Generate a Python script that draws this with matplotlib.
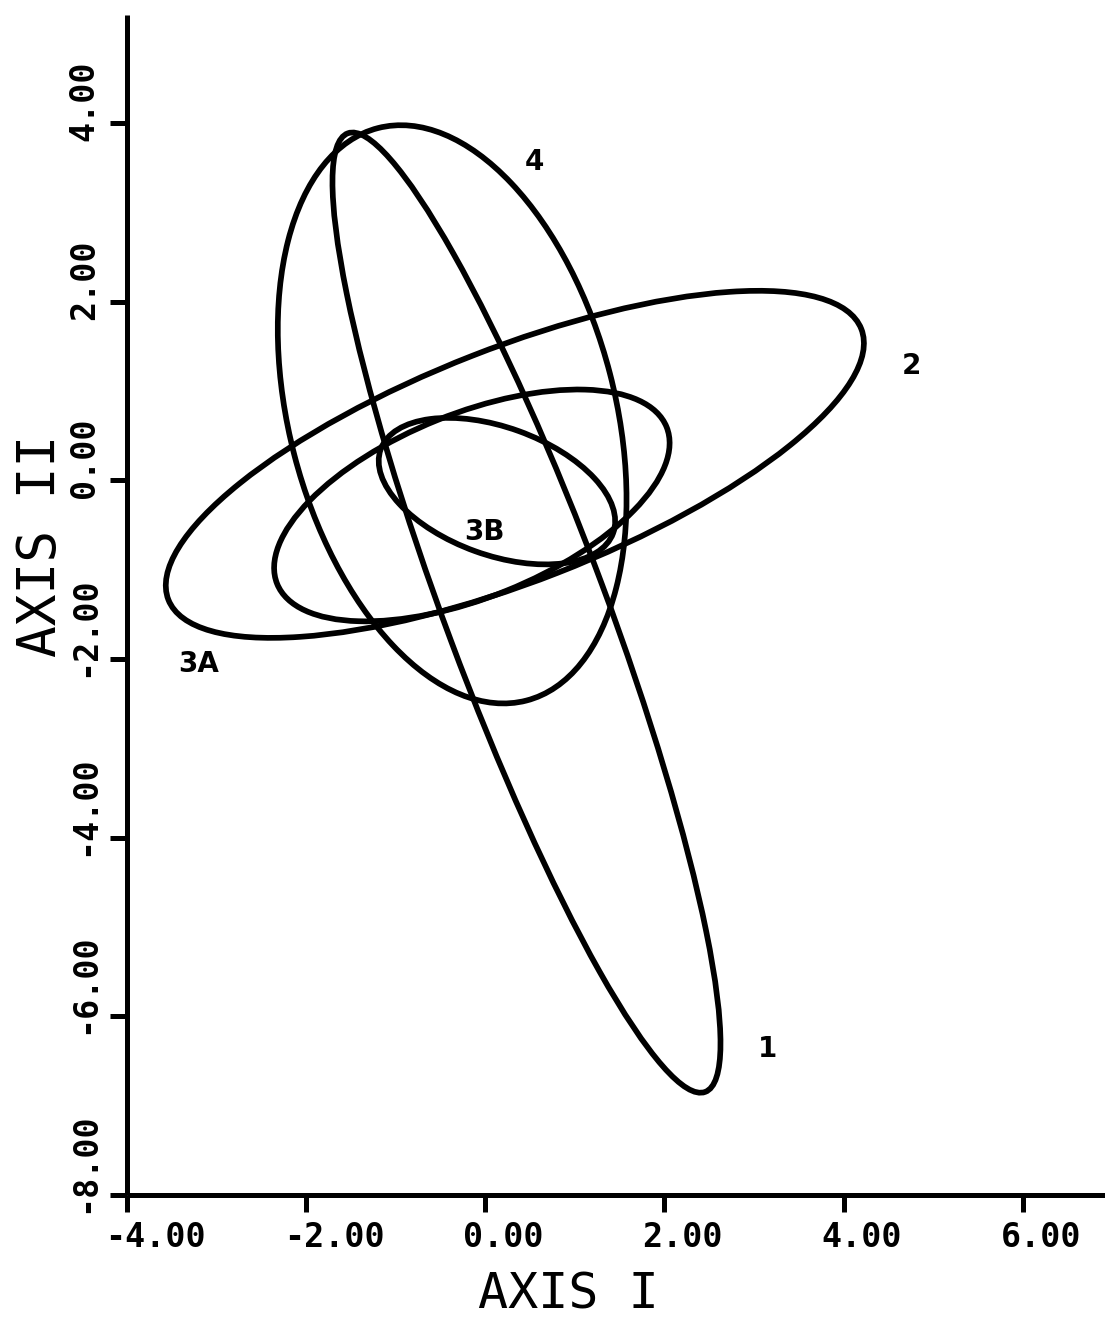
import matplotlib
matplotlib.use('Agg')
import matplotlib.pyplot as plt
from matplotlib.patches import Ellipse
from matplotlib.transforms import ScaledTranslation

# Ellipses (data units): centre, full width, full height, tilt
names = ['1', '2', '3A', '3B', '4']
cx = [0.46, 0.33, -0.15, 0.13, -0.37]
cy = [-1.48, 0.18, -0.28, -0.12, 0.74]
widths = [11.45, 8.31, 4.69, 2.76, 6.62]
heights = [1.80, 2.61, 2.06, 1.43, 3.64]
angles = [110.4, 21.4, 22.0, -19.9, 104.5]

# where the group names are written
label_x = [3.15, 4.76, -3.2, -0.01, 0.55]
label_y = [-6.37, 1.28, -2.06, -0.58, 3.57]

xticks = [-4, -2, 0, 2, 4, 6]
yticks = [-8, -6, -4, -2, 0, 2, 4]
xticklabels = ['-4.00', '-2.00', '0.00', '2.00', '4.00', '6.00']
yticklabels = ['-8.00', '-6.00', '-4.00', '-2.00', '0.00', '2.00', '4.00']

fig = plt.figure(figsize=(11.05, 13.21), dpi=100)
ax = fig.add_axes([0.115, 0.0954, 0.885, 0.8932])

for i in range(len(names)):
    ax.add_patch(Ellipse((cx[i], cy[i]), widths[i], heights[i], angle=angles[i],
                         fill=False, lw=4.1, ec='black'))
    ax.text(label_x[i], label_y[i], names[i], ha='center', va='center',
            fontsize=20, fontweight='bold')

ax.set_xlim(-4, 6.92)
ax.set_ylim(-8, 5.21)
ax.spines['top'].set_visible(False)
ax.spines['right'].set_visible(False)
for s in ['left', 'bottom']:
    ax.spines[s].set_linewidth(3.6)
    ax.spines[s].set_capstyle('butt')

ax.tick_params(direction='out', length=12, width=3.6, pad=7)
ax.set_xticks(xticks)
ax.set_xticklabels(xticklabels, family='DejaVu Sans Mono', fontweight='bold',
                   fontsize=24, ha='left')
ax.set_yticks(yticks)
ax.set_yticklabels(yticklabels, family='DejaVu Sans Mono', fontweight='bold',
                   fontsize=24, rotation=90, va='bottom')

# labels start a bit before their tick, as on the plotter
for lab in ax.get_xticklabels():
    lab.set_transform(lab.get_transform() + ScaledTranslation(-0.22, 0, fig.dpi_scale_trans))
for lab in ax.get_yticklabels():
    lab.set_transform(lab.get_transform() + ScaledTranslation(0, -0.18, fig.dpi_scale_trans))

fig.text(0.514, 0.0197, 'AXIS I', family='DejaVu Sans Mono', fontsize=36,
         ha='center', va='center')
fig.text(0.037, 0.587, 'AXIS II', family='DejaVu Sans Mono', fontsize=38,
         rotation=90, ha='center', va='center')

fig.savefig('out.png', dpi=100)
